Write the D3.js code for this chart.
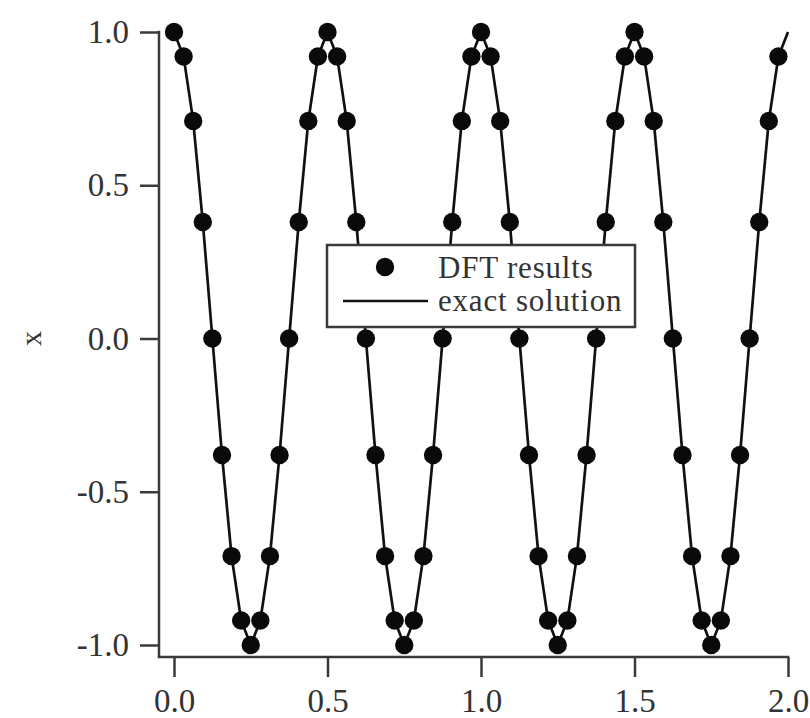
<!DOCTYPE html>
<html>
<head>
<meta charset="utf-8">
<script src="https://cdn.jsdelivr.net/npm/d3@7"></script>
<style>
  body { margin: 0; background: #fff; }
  text { font-family: "Liberation Serif", "Times New Roman", serif; fill: #333; }
</style>
</head>
<body>
<svg id="chart"></svg>
<script>
// sample times (s)
const times = [
  0.0000, 0.0313, 0.0625, 0.0938, 0.1250, 0.1563, 0.1875, 0.2188,
  0.2500, 0.2813, 0.3125, 0.3438, 0.3750, 0.4063, 0.4375, 0.4688,
  0.5000, 0.5313, 0.5625, 0.5938, 0.6250, 0.6563, 0.6875, 0.7188,
  0.7500, 0.7813, 0.8125, 0.8438, 0.8750, 0.9063, 0.9375, 0.9688,
  1.0000, 1.0313, 1.0625, 1.0938, 1.1250, 1.1563, 1.1875, 1.2188,
  1.2500, 1.2813, 1.3125, 1.3438, 1.3750, 1.4063, 1.4375, 1.4688,
  1.5000, 1.5313, 1.5625, 1.5938, 1.6250, 1.6563, 1.6875, 1.7188,
  1.7500, 1.7813, 1.8125, 1.8438, 1.8750, 1.9063, 1.9375, 1.9688,
  2.0000
]

// DFT results, one per sample (no point at t = 2.0)
const dftValues = [
  1.00, 0.92, 0.71, 0.38, 0.00, -0.38, -0.71, -0.92,
  -1.00, -0.92, -0.71, -0.38, 0.00, 0.38, 0.71, 0.92,
  1.00, 0.92, 0.71, 0.38, 0.00, -0.38, -0.71, -0.92,
  -1.00, -0.92, -0.71, -0.38, 0.00, 0.38, 0.71, 0.92,
  1.00, 0.92, 0.71, 0.38, 0.00, -0.38, -0.71, -0.92,
  -1.00, -0.92, -0.71, -0.38, 0.00, 0.38, 0.71, 0.92,
  1.00, 0.92, 0.71, 0.38, 0.00, -0.38, -0.71, -0.92,
  -1.00, -0.92, -0.71, -0.38, 0.00, 0.38, 0.71, 0.92
]

// exact solution at the same sample times, plus the end point
const exactValues = [
  1.00, 0.92, 0.71, 0.38, 0.00, -0.38, -0.71, -0.92,
  -1.00, -0.92, -0.71, -0.38, 0.00, 0.38, 0.71, 0.92,
  1.00, 0.92, 0.71, 0.38, 0.00, -0.38, -0.71, -0.92,
  -1.00, -0.92, -0.71, -0.38, 0.00, 0.38, 0.71, 0.92,
  1.00, 0.92, 0.71, 0.38, 0.00, -0.38, -0.71, -0.92,
  -1.00, -0.92, -0.71, -0.38, 0.00, 0.38, 0.71, 0.92,
  1.00, 0.92, 0.71, 0.38, 0.00, -0.38, -0.71, -0.92,
  -1.00, -0.92, -0.71, -0.38, 0.00, 0.38, 0.71, 0.92,
  1.00
]

const xTicks = [0, 0.5, 1.0, 1.5, 2.0]
const yTicks = [-1.0, -0.5, 0.0, 0.5, 1.0]
const legendLabels = ["DFT results", "exact solution"]

let width = 810
let height = 718
let axisColor = "#3a3a3a"

let svg = d3.select("#chart")
    .attr("width", width)
    .attr("height", height)

let xScale = d3.scaleLinear()
    .domain([0, 2])
    .range([174, 788])

let yScale = d3.scaleLinear()
    .domain([-1, 1])
    .range([645, 32])

let yAxisX = 159
let xAxisY = 657

// axes
let yAxis = d3.axisLeft(yScale)
    .tickValues(yTicks)
    .tickFormat(d => d.toFixed(1))
    .tickSize(19)
    .tickPadding(11)

let gy = svg.append("g")
    .attr("transform", `translate(${yAxisX},0)`)
    .call(yAxis)
gy.select(".domain").remove()

let xAxis = d3.axisBottom(xScale)
    .tickValues(xTicks)
    .tickFormat(d => d.toFixed(1))
    .tickSize(20)
    .tickPadding(12)

let gx = svg.append("g")
    .attr("transform", `translate(0,${xAxisY})`)
    .call(xAxis)
gx.select(".domain").remove()

svg.selectAll(".tick line")
    .attr("stroke", axisColor)
    .attr("stroke-width", 2.5)
svg.selectAll(".tick text")
    .style("font-family", "'Liberation Serif', serif")
    .style("font-size", "33px")
    .attr("fill", "#333")

svg.append("line")
    .attr("x1", yAxisX).attr("x2", yAxisX)
    .attr("y1", yScale(1) - 1.25).attr("y2", xAxisY)
    .attr("stroke", axisColor)
    .attr("stroke-width", 2.5)

svg.append("line")
    .attr("x1", yAxisX - 1.25).attr("x2", xScale(2) + 1.25)
    .attr("y1", xAxisY).attr("y2", xAxisY)
    .attr("stroke", axisColor)
    .attr("stroke-width", 2.5)

svg.append("text")
    .attr("transform", `translate(41,${yScale(0)}) rotate(-90)`)
    .attr("text-anchor", "middle")
    .style("font-size", "30px")
    .text("x")

// exact solution line
let line = d3.line()
    .x((d, i) => xScale(times[i]))
    .y(d => yScale(d))

svg.append("path")
    .datum(exactValues)
    .attr("d", line)
    .attr("fill", "none")
    .attr("stroke", "#111")
    .attr("stroke-width", 2.7)

// DFT points
svg.append("g")
    .selectAll("circle")
    .data(dftValues)
    .enter()
    .append("circle")
    .attr("cx", (d, i) => xScale(times[i]))
    .attr("cy", d => yScale(d))
    .attr("r", 9.2)
    .attr("fill", "#0a0a0a")

// legend
let legend = svg.append("g")

legend.append("rect")
    .attr("x", 327).attr("y", 245)
    .attr("width", 308).attr("height", 82)
    .attr("fill", "#fff")
    .attr("stroke", axisColor)
    .attr("stroke-width", 2.5)

legend.append("circle")
    .attr("cx", 385).attr("cy", 267)
    .attr("r", 9.2)
    .attr("fill", "#0a0a0a")

legend.append("line")
    .attr("x1", 343).attr("x2", 428)
    .attr("y1", 301).attr("y2", 301)
    .attr("stroke", "#111")
    .attr("stroke-width", 2.7)

legend.selectAll(".label")
    .data(legendLabels)
    .enter()
    .append("text")
    .attr("class", "label")
    .attr("x", 438)
    .attr("y", (d, i) => 278 + i * 33)
    .style("font-size", "31px")
    .style("letter-spacing", "0.8px")
    .text(d => d)
</script>
</body>
</html>
